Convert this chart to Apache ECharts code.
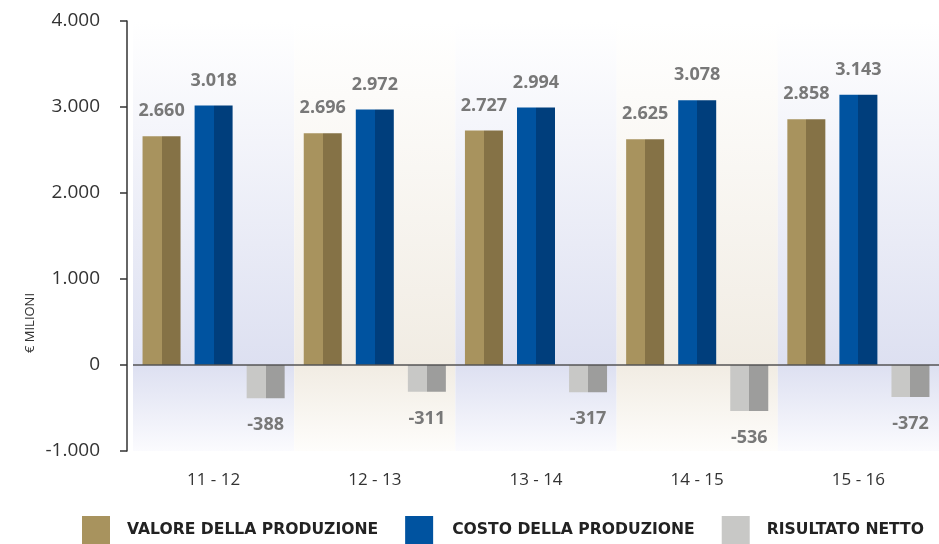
<!DOCTYPE html>
<html>
<head>
<meta charset="utf-8">
<script src="https://cdn.jsdelivr.net/npm/echarts@6/dist/echarts.min.js"></script>
<style>html,body{margin:0;padding:0;background:#fff;}#c{width:939px;height:544px;}</style>
</head>
<body>
<div id="c"></div>
<script>
const categories = ['11 - 12', '12 - 13', '13 - 14', '14 - 15', '15 - 16'];
const valore = [2660, 2696, 2727, 2625, 2858];
const costo = [3018, 2972, 2994, 3078, 3143];
const risultato = [-388, -311, -317, -536, -372];
const seriesNames = ['VALORE DELLA PRODUZIONE', 'COSTO DELLA PRODUZIONE', 'RISULTATO NETTO'];
const yTicks = { min: -1000, max: 4000, interval: 1000 };

function fmt(v) {
  const neg = v < 0;
  let s = String(Math.abs(Math.round(v)));
  s = s.replace(/\B(?=(\d{3})+(?!\d))/g, '.');
  return (neg ? '-' : '') + s;
}
function split(light, dark) {
  return new echarts.graphic.LinearGradient(0, 0, 1, 0, [
    { offset: 0, color: light }, { offset: 0.5, color: light },
    { offset: 0.5, color: dark }, { offset: 1, color: dark }
  ]);
}
const bandBlue = new echarts.graphic.LinearGradient(0, 0, 0, 1, [
  { offset: 0, color: '#FFFFFF' }, { offset: 0.8, color: '#DDE0F1' }, { offset: 1, color: '#FBFBFE' }
]);
const bandBeige = new echarts.graphic.LinearGradient(0, 0, 0, 1, [
  { offset: 0, color: '#FFFFFF' }, { offset: 0.8, color: '#F1ECE3' }, { offset: 1, color: '#FEFDFB' }
]);
const FONT = '"Open Sans", sans-serif';
const LEGEND_FONT = '"DejaVu Sans", sans-serif';
const lbl = (pos, dist) => ({
  show: true, position: pos, distance: dist, formatter: p => fmt(p.value),
  color: '#787878', fontSize: 18, fontWeight: 'bold', fontFamily: FONT
});

const chart = echarts.init(document.getElementById('c'));
chart.setOption({
  animation: false,
  grid: { left: 133, right: 0, top: 21, bottom: 93 },
  legend: {
    left: 82, top: 516, width: 900, padding: 0, icon: 'rect', itemWidth: 28, itemHeight: 28, itemGap: 27,
    textStyle: { fontSize: 15.6, fontWeight: 'bold', color: '#222', fontFamily: LEGEND_FONT, padding: [0, 0, 0, 12] },
    data: [
      { name: seriesNames[0], itemStyle: { color: '#A8935E' } },
      { name: seriesNames[1], itemStyle: { color: '#0053A0' },
        textStyle: { fontSize: 15.6, fontWeight: 'bold', color: '#222', fontFamily: LEGEND_FONT, padding: [0, 11, 0, 14] } },
      { name: seriesNames[2], itemStyle: { color: '#C8C8C6' } }
    ]
  },
  graphic: [{
    type: 'text', x: 30, y: 323, rotation: Math.PI / 2,
    style: { text: '€ MILIONI', fontSize: 13, fill: '#333', fontFamily: FONT, align: 'center', verticalAlign: 'middle' }
  }],
  xAxis: {
    type: 'category', data: categories, position: 'bottom',
    axisLine: { show: false, onZero: false }, axisTick: { show: false },
    axisLabel: { margin: 21, fontSize: 17, color: '#333', fontFamily: FONT },
    splitArea: { show: true, interval: 0, areaStyle: { color: [bandBlue, bandBeige] } }
  },
  yAxis: {
    type: 'value', min: yTicks.min, max: yTicks.max, interval: yTicks.interval, offset: 6,
    axisLine: { show: true, lineStyle: { color: '#333', width: 1.5 } },
    axisTick: { show: true, length: 7, lineStyle: { color: '#333', width: 1.5 } },
    splitLine: { show: false },
    axisLabel: { margin: 27, fontSize: 19, color: '#333', fontFamily: FONT, formatter: v => fmt(v) }
  },
  series: [
    { name: seriesNames[0], type: 'bar', data: valore, barWidth: 38, barGap: '37%',
      itemStyle: { color: split('#A8935E', '#857246') }, label: lbl('top', 16) },
    { name: seriesNames[1], type: 'bar', data: costo, barWidth: 38, barGap: '37%',
      itemStyle: { color: split('#0053A0', '#003E7C') }, label: lbl('top', 16) },
    { name: seriesNames[2], type: 'bar', data: risultato, barWidth: 38, barGap: '37%',
      itemStyle: { color: split('#C8C8C6', '#9D9D9C') }, label: lbl('bottom', 18),
      markLine: { silent: true, symbol: ['none', 'none'], label: { show: false },
        lineStyle: { color: '#555', width: 1.5, type: 'solid' }, data: [{ yAxis: 0 }] } }
  ]
});
</script>
</body>
</html>
